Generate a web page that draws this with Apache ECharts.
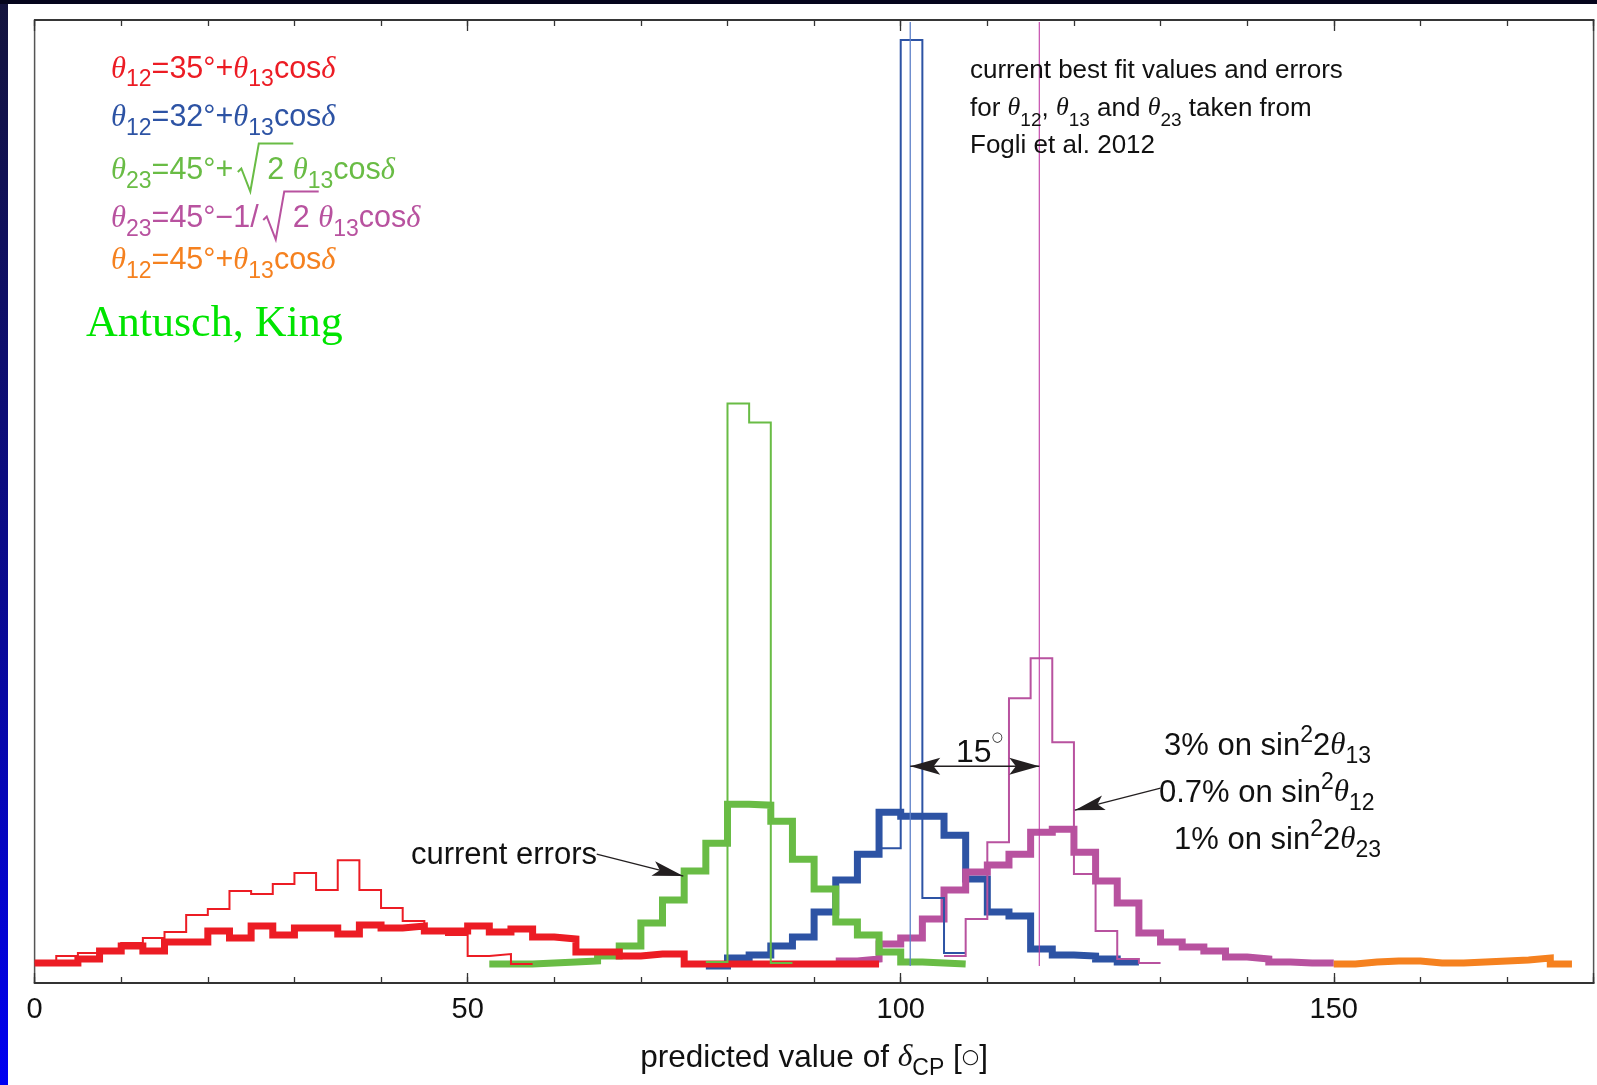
<!DOCTYPE html>
<html>
<head>
<meta charset="utf-8">
<script src="https://cdn.jsdelivr.net/npm/echarts@6/dist/echarts.min.js"></script>
<style>
  html, body { margin: 0; padding: 0; }
  body { width: 1597px; height: 1085px; position: relative; overflow: hidden;
         background: linear-gradient(to bottom, #14143c 0%, #0a0a90 55%, #0000f2 100%); }
  .topband { position: absolute; left: 0; top: 0; width: 1597px; height: 4px; background: #05051c; }
  .paper { position: absolute; left: 8px; top: 4px; right: 0; bottom: 0; background: #fff; }
  #chart { position: absolute; left: 0; top: 0; width: 1597px; height: 1085px; }
</style>
</head>
<body>
<div class="topband"></div>
<div class="paper"></div>
<div id="chart"></div>
<script>
  const SANS = 'Liberation Sans'
  const SERIF = 'Liberation Serif'
  const binWidth = 2.5

  // thick outlines: spread with the current errors
  const redNowStart = 0
  const redNow = [20, 20, 24, 32, 37, 32, 41, 41, 52, 45, 57, 48, 55, 55, 49, 58, 55, 57, 52, 52,
    57, 51, 54, 46, 44, 31, 31, 27, 29, 29, 19, 19, 19, 19, 19, 19, 19, 19, 19]
  const greenNowStart = 52.5
  const greenNow = [19, 19, 20, 21, 22, 27, 37, 60, 83, 112, 140, 179, 178, 162, 124, 94, 61, 48, 31, 21, 20, 19]
  const blueNowStart = 77.5
  const blueNow = [17, 25, 28, 37, 46, 71, 103, 129, 171, 167, 167, 148, 104, 71, 67, 34, 28, 27, 24, 21]
  const magentaNowStart = 92.5
  const magentaNow = [22, 24, 39, 45, 64, 93, 111, 118, 129, 151, 154, 131, 102, 80, 50, 41, 36, 32, 26, 24, 21, 20, 20]
  const orangeNowStart = 150
  const orangeNow = [19, 21, 22, 22, 20, 20, 21, 22, 23, 25, 19]

  // thin outlines: future precision (3% / 0.7% / 1%)
  const redFutStart = 0
  const redFut = [21, 27, 30, 34, 40, 45, 51, 68, 74, 92, 89, 99, 110, 93, 123, 93, 75, 62, 53, 48, 27, 29, 19]
  const greenFutStart = 77.5
  const greenFut = [21, 580, 561, 20]
  const blueFutStart = 97.5
  const blueFut = [135, 944, 85, 30]
  const magentaFutStart = 105
  const magentaFut = [27, 64, 141, 285, 325, 241, 109, 52, 24, 20]

  // best fit predictions and annotation anchors
  const bestFit = [101.1, 116.0]
  const bestFitSpan = [17, 962]
  const shiftArrow = [[101.1, 217], [116.0, 217]]
  const errArrow = [[64.9, 129], [74.9, 107]]
  const precArrow = [[130.0, 195], [120.1, 173]]

  const xTicksMajor = 50
  const xTicksMinor = 10

  const RED = '#ec1c24'
  const BLUE = '#2d53a4'
  const GREEN = '#69bc45'
  const MAGENTA = '#b8529f'
  const ORANGE = '#f5811f'

  const LINE_H = 44
  const SUB = 0.74
  const BASE_OFF = 32
  const SQRT_W = 34

  function stepData (start, values) {
    const pts = values.map((v, i) => [start + i * binWidth, v])
    pts.push([start + values.length * binWidth, values[values.length - 1]])
    return pts
  }

  function hist (name, start, values, color, width, z) {
    return {
      name,
      type: 'line',
      step: 'end',
      data: stepData(start, values),
      showSymbol: false,
      symbol: 'none',
      silent: true,
      z,
      lineStyle: { color, width, join: 'miter', cap: 'butt' }
    }
  }

  function vline (x, color, width) {
    return {
      type: 'line',
      data: [[x, bestFitSpan[0]], [x, bestFitSpan[1]]],
      showSymbol: false,
      symbol: 'none',
      silent: true,
      z: 9,
      lineStyle: { color, width }
    }
  }

  function mathRich (size, color) {
    const sub = Math.round(size * SUB)
    return {
      n: { fontFamily: SANS, fontSize: size, fill: color, color, lineHeight: LINE_H },
      g: { fontFamily: SERIF, fontStyle: 'italic', fontSize: size, fill: color, color, lineHeight: LINE_H },
      s: { fontFamily: SANS, fontSize: sub, fill: color, color, lineHeight: 26, verticalAlign: 'bottom' },
      p: { fontFamily: SANS, fontSize: sub, fill: color, color, lineHeight: 20, verticalAlign: 'top' },
      o: { fontFamily: 'DejaVu Sans', fontSize: 13, fill: color, color, lineHeight: 22, verticalAlign: 'top' },
      sp: { fontFamily: SANS, fontSize: size, width: SQRT_W, lineHeight: LINE_H },
      c: { fontFamily: 'DejaVu Sans', fontSize: Math.round(size * 0.62), fill: color, color, lineHeight: LINE_H }
    }
  }

  function mtext (x, y, text, size, color, align) {
    return {
      type: 'text',
      x,
      y,
      z: 20,
      silent: true,
      style: {
        text,
        rich: mathRich(size, color),
        align: align || 'left',
        textAlign: align || 'left',
        verticalAlign: 'top',
        textVerticalAlign: 'top'
      }
    }
  }

  // measure the tokens in front of a square root, then draw the radical sign by hand
  const mctx = document.createElement('canvas').getContext('2d')
  function tokenFont (kind, size) {
    const sub = Math.round(size * SUB)
    if (kind === 'g') return 'italic ' + size + 'px "' + SERIF + '"'
    if (kind === 's' || kind === 'p') return sub + 'px "' + SANS + '"'
    return size + 'px "' + SANS + '"'
  }
  function tw (kind, size, s) {
    mctx.font = tokenFont(kind, size)
    return mctx.measureText(s).width
  }
  function radical (x, y, prefix, size, color) {
    let sx = x
    for (const [k, s] of prefix) sx += tw(k, size, s)
    const by = y + BASE_OFF
    const barEnd = SQRT_W + tw('n', size, '2') + 9
    const pts = [[4.5, -9], [8, -12.5], [17, 10.5], [25.5, -37.5], [barEnd, -37.5]]
      .map(p => [sx + p[0], by + p[1]])
    return {
      type: 'polyline', z: 20, silent: true,
      shape: { points: pts },
      style: { stroke: color, lineWidth: 2, fill: null, lineJoin: 'miter' }
    }
  }

  function xAxis (position, step, tickLen, withLabels) {
    return {
      type: 'value',
      position,
      min: 0,
      max: 180,
      interval: step,
      axisLine: { show: withLabels || position === 'top', lineStyle: { color: '#333', width: position === 'top' ? 1.5 : 2 } },
      axisTick: { show: true, inside: true, length: tickLen, lineStyle: { color: '#333', width: 1.3 } },
      splitLine: { show: false },
      axisLabel: withLabels ? {
        show: true,
        margin: 12,
        fontFamily: SANS,
        fontSize: 29,
        color: '#111',
        formatter: v => (v % xTicksMajor === 0 ? String(v) : '')
      } : { show: false },
      name: withLabels ? '{n|predicted value of }{g|δ}{s|CP}{n| [}{c|○}{n|]}' : '',
      nameLocation: 'middle',
      nameGap: 53,
      nameTextStyle: { rich: mathRich(31.5, '#111') }
    }
  }

  const chart = echarts.init(document.getElementById('chart'), null, { renderer: 'canvas' })

  const option = {
    animation: false,
    backgroundColor: 'transparent',
    grid: { left: 34.6, right: 3.4, top: 20, bottom: 101, show: true, borderColor: '#555', borderWidth: 1.5, backgroundColor: 'transparent' },
    xAxis: [
      xAxis('bottom', xTicksMajor, 10, true),
      xAxis('bottom', xTicksMinor, 6, false),
      xAxis('top', xTicksMajor, 11, false),
      xAxis('top', xTicksMinor, 6, false)
    ],
    yAxis: { type: 'value', min: 0, max: 964, show: false },
    series: [
      hist('blue now', blueNowStart, blueNow, BLUE, 7, 2),
      hist('magenta now', magentaNowStart, magentaNow, MAGENTA, 7, 3),
      hist('green now', greenNowStart, greenNow, GREEN, 7, 4),
      hist('red now', redNowStart, redNow, RED, 7, 5),
      hist('orange now', orangeNowStart, orangeNow, ORANGE, 7, 5),
      hist('red future', redFutStart, redFut, RED, 2, 6),
      hist('green future', greenFutStart, greenFut, GREEN, 2, 6),
      hist('blue future', blueFutStart, blueFut, BLUE, 2, 6),
      hist('magenta future', magentaFutStart, magentaFut, MAGENTA, 2, 6),
      vline(bestFit[0], '#5d80c8', 1.3),
      vline(bestFit[1], '#c03ea6', 1.1)
    ]
  }
  chart.setOption(option)

  function px (p) { return chart.convertToPixel({ gridIndex: 0 }, p) }

  function arrowHead (tip, from, len, half) {
    const dx = tip[0] - from[0]
    const dy = tip[1] - from[1]
    const d = Math.hypot(dx, dy)
    const ux = dx / d
    const uy = dy / d
    const bx = tip[0] - ux * len
    const by = tip[1] - uy * len
    const nx = -uy
    const ny = ux
    return {
      type: 'polygon',
      z: 30,
      silent: true,
      shape: { points: [tip, [bx + nx * half, by + ny * half], [tip[0] - ux * len * 0.78, tip[1] - uy * len * 0.78], [bx - nx * half, by - ny * half]] },
      style: { fill: '#231f20' }
    }
  }

  function arrowLine (a, b) {
    return {
      type: 'line',
      z: 30,
      silent: true,
      shape: { x1: a[0], y1: a[1], x2: b[0], y2: b[1] },
      style: { stroke: '#231f20', lineWidth: 1.3 }
    }
  }

  const s0 = px(shiftArrow[0])
  const s1 = px(shiftArrow[1])
  const e0 = px(errArrow[0])
  const e1 = px(errArrow[1])
  const p0 = px(precArrow[0])
  const p1 = px(precArrow[1])

  const LEG = 30.5
  const pre3 = [['g', 'θ'], ['s', '23'], ['n', '=45°+']]
  const pre4 = [['g', 'θ'], ['s', '23'], ['n', '=45°−1/']]

  const graphics = [
    arrowLine(s0, s1), arrowHead(s0, s1, 30, 8.5), arrowHead(s1, s0, 30, 8.5),
    arrowLine(e0, e1), arrowHead(e1, e0, 31, 7.5),
    arrowLine(p0, p1), arrowHead(p1, p0, 30, 7.5),

    mtext(111, 47.5, '{g|θ}{s|12}{n|=35°+}{g|θ}{s|13}{n|cos}{g|δ}', LEG, RED),
    mtext(111, 96, '{g|θ}{s|12}{n|=32°+}{g|θ}{s|13}{n|cos}{g|δ}', LEG, BLUE),
    mtext(111, 149, '{g|θ}{s|23}{n|=45°+}{sp| }{n|2 }{g|θ}{s|13}{n|cos}{g|δ}', LEG, GREEN),
    radical(111, 149, pre3, LEG, GREEN),
    mtext(111, 197, '{g|θ}{s|23}{n|=45°−1/}{sp| }{n|2 }{g|θ}{s|13}{n|cos}{g|δ}', LEG, MAGENTA),
    radical(111, 197, pre4, LEG, MAGENTA),
    mtext(111, 239, '{g|θ}{s|12}{n|=45°+}{g|θ}{s|13}{n|cos}{g|δ}', LEG, ORANGE),
    {
      type: 'text', x: 86, y: 324, z: 20, silent: true,
      style: { text: 'Antusch, King', fontFamily: SERIF, fontSize: 44, fill: '#00e400', align: 'left', textAlign: 'left', verticalAlign: 'middle', textVerticalAlign: 'middle' }
    },

    mtext(970, 48.5, '{n|current best fit values and errors}', 26, '#111'),
    mtext(970, 86.5, '{n|for }{g|θ}{s|12}{n|, }{g|θ}{s|13}{n| and }{g|θ}{s|23}{n| taken from}', 26, '#111'),
    mtext(970, 123.5, '{n|Fogli et al. 2012}', 26, '#111'),

    mtext(597, 833, '{n|current errors}', 31, '#111', 'right'),
    mtext(956, 731, '{n|15}{o|○}', 32, '#111'),

    mtext(1164, 724, '{n|3% on sin}{p|2}{n|2}{g|θ}{s|13}', 31, '#111'),
    mtext(1159, 771, '{n|0.7% on sin}{p|2}{g|θ}{s|12}', 31, '#111'),
    mtext(1174, 818, '{n|1% on sin}{p|2}{n|2}{g|θ}{s|23}', 31, '#111')
  ]

  chart.setOption({ graphic: graphics })
</script>
</body>
</html>
